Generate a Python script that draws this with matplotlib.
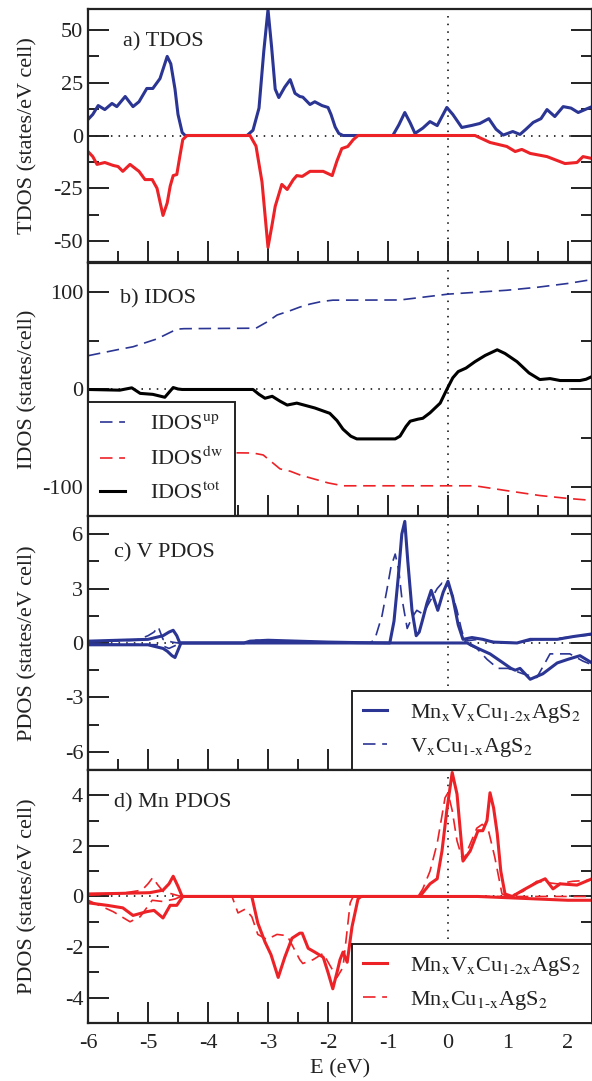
import matplotlib
matplotlib.use('Agg')
import matplotlib.pyplot as plt
from matplotlib.ticker import MultipleLocator

plt.rcParams['font.family'] = ['Liberation Serif', 'DejaVu Serif']
plt.rcParams['mathtext.fontset'] = 'stix'

blue = '#2b3593'
red = '#ec2227'
ink = '#222222'
fs = 16

# a) TDOS
tdos_up_x = [-6, -5.92, -5.83, -5.72, -5.6, -5.52, -5.38, -5.25, -5.15, -5.02, -4.92, -4.8, -4.68, -4.62, -4.55, -4.5,
             -4.43, -4.38, -3.35, -3.25, -3.15, -3.07, -3.0, -2.94, -2.88, -2.82, -2.72, -2.63, -2.55, -2.47, -2.42,
             -2.3, -2.22, -2.1, -2.0, -1.95, -1.88, -1.82, -1.75, -0.92, -0.82, -0.72, -0.63, -0.55, -0.42, -0.3,
             -0.18, -0.1, -0.02, 0.08, 0.23, 0.4, 0.53, 0.68, 0.8, 0.92, 1.08, 1.2, 1.3, 1.42, 1.55, 1.65, 1.78,
             1.92, 2.05, 2.17, 2.3, 2.4]
tdos_up_y = [7.6, 10, 14.2, 12.3, 15.2, 13.7, 18.5, 13.7, 16, 22.3, 22.3, 27, 37.5, 34, 22, 10,
             1.4, 0, 0, 2.5, 13, 40, 59.7, 42, 22, 18, 23, 26.5, 20, 18.5, 18.2,
             14.7, 16, 14.2, 13.3, 10, 4, 1, 0, 0, 5, 10.9, 6, 1, 3.5, 6.6,
             4.7, 9, 13.3, 10, 3.8, 4.8, 5.7, 8, 3, 0.2, 1.9, 0.5, 3, 6.2, 8, 12.3, 9,
             13.7, 13, 10.9, 12.5, 13.7]
tdos_dw_x = [-6, -5.92, -5.85, -5.72, -5.58, -5.5, -5.42, -5.3, -5.15, -5.05, -4.93, -4.85, -4.75, -4.68, -4.63,
             -4.58, -4.52, -4.47, -4.42, -4.35, -3.3, -3.2, -3.1, -3.0, -2.93, -2.88, -2.77, -2.68, -2.58, -2.52,
             -2.43, -2.3, -2.08, -1.93, -1.85, -1.77, -1.67, -1.58, -1.5, 0.45, 0.7, 0.98, 1.12, 1.23, 1.37, 1.65,
             1.95, 2.15, 2.25, 2.4]
tdos_dw_y = [-7.6, -10, -13.7, -12.8, -14.2, -14.7, -17, -13.7, -17, -20.9, -20.9, -25, -37.9, -32, -24,
             -19, -18.5, -10, -1.9, 0, 0, -5, -22, -53, -42, -33.6, -23.2, -25.6, -21, -19,
             -19.4, -17, -17, -19, -12, -6.2, -5.2, -2, 0, 0, -3.3, -5.2, -7.6, -6.6, -8.5, -10,
             -13.3, -12.8, -10, -10.9]

# b) IDOS
idos_up_x = [-6, -5.5, -5.25, -4.85, -4.52, -4.4, -3.2, -3.0, -2.85, -2.63, -2.47, -2.3, -2.1, -1.92, -0.8, 0, 0.98,
             1.48, 2.0, 2.4]
idos_up_y = [34.7, 41, 43.9, 52, 62, 62.5, 63, 70, 76.5, 81, 84.7, 87.8, 90.5, 91.8, 92, 98, 102, 105, 109, 113]
idos_dw_x = [-6, -5.25, -4.85, -4.52, -4.4, -3.25, -3.08, -2.8, -2.63, -2.47, -2.3, -2.0, -1.75, 0.45, 0.98, 1.53,
             2.0, 2.4]
idos_dw_y = [-34.7, -43.9, -52, -62, -64.5, -65.3, -67.3, -81.6, -84, -87.8, -90.8, -96, -99, -99, -104, -109,
             -112, -114]
idos_tot_x = [-6, -5.47, -5.27, -5.13, -4.92, -4.72, -4.65, -4.58, -4.5, -4.43, -3.25, -3.15, -3.05, -2.93, -2.8,
              -2.68, -2.52, -2.22, -1.97, -1.85, -1.75, -1.62, -1.52, -0.88, -0.8, -0.7, -0.63, -0.5, -0.42, -0.3,
              -0.13, -0.02, 0.08, 0.17, 0.3, 0.45, 0.62, 0.82, 0.95, 1.15, 1.35, 1.53, 1.7, 1.87, 2.2, 2.3, 2.4]
idos_tot_y = [0, -0.7, 1.7, -4, -5, -8, -3, 2, 0.5, 0, 0, -5, -9, -7, -12,
              -16, -14, -19, -24.5, -32, -40.8, -48, -50.8, -50.8, -48, -38, -32.6, -30.5, -29.6, -24,
              -14, 0, 12, 18.4, 22, 28.6, 35, 40.8, 37, 28.6, 17, 10.2, 11.2, 9.2, 9.2, 10.5, 13.3]

# c) V PDOS
v_mnv_up_x = [-6, -5.5, -5.0, -4.75, -4.65, -4.58, -4.52, -4.47, -3.4, -3.3, -3.0, -2.5, -2.0, -1.5, -0.97, -0.9,
              -0.83, -0.77, -0.72, -0.67, -0.6, -0.53, -0.48, -0.43, -0.35, -0.28, -0.17, -0.08, 0.0, 0.08, 0.17,
              0.25, 0.4, 0.58, 0.75, 1.15, 1.37, 1.82, 2.08, 2.4]
v_mnv_up_y = [0.1, 0.15, 0.2, 0.4, 0.6, 0.7, 0.4, 0, 0, 0.1, 0.15, 0.1, 0.05, 0.02, 0, 1.2,
              3.6, 6.0, 6.7, 4.5, 1.8, 0.4, 0.6, 1.2, 2.2, 2.9, 1.8, 2.8, 3.4, 2.5, 1.0,
              0.2, 0.3, 0.2, 0.05, 0, 0.2, 0.2, 0.35, 0.5]
v_mnv_dw_x = [-6, -5.0, -4.75, -4.68, -4.6, -4.55, -4.5, -4.45, 0.32, 0.5, 0.7, 0.92, 1.05, 1.12, 1.2, 1.37, 1.58,
              1.82, 2.0, 2.2, 2.4]
v_mnv_dw_y = [-0.1, -0.1, -0.3, -0.45, -0.7, -0.8, -0.4, 0, 0, -0.3, -0.6, -1.1, -1.4, -1.5, -1.4, -2.0, -1.7,
              -1.1, -0.9, -0.7, -1.1]
v_vcu_up_x = [-6, -5.2, -5.0, -4.9, -4.83, -4.75, -4.6, -4.5, -3.3, -3.2, -3.0, -2.0, -1.3, -1.22, -1.1, -1.02,
              -0.95, -0.88, -0.82, -0.77, -0.68, -0.6, -0.52, -0.42, -0.3, -0.18, -0.1, 0.0, 0.08, 0.15, 0.22, 0.28,
              0.5, 0.8, 1.15, 1.4, 1.82, 2.1, 2.4]
v_vcu_up_y = [0.05, 0.15, 0.4, 0.6, 0.9, 0.2, 0.05, 0, 0, 0.15, 0.1, 0.05, 0, 0.2, 1.5, 2.9,
              4.2, 4.9, 4.0, 2.5, 0.8, 1.4, 1.8, 1.6, 2.3, 3.0, 3.3, 3.2, 2.6, 1.8, 0.8, 0.1,
              0.2, 0.05, 0, 0.15, 0.25, 0.35, 0.45]
v_vcu_dw_x = [-6, -4.8, -4.65, -4.55, -4.45, 0.28, 0.48, 0.65, 0.83, 1.0, 1.25, 1.48, 1.6, 1.7, 2.03, 2.25, 2.4]
v_vcu_dw_y = [-0.05, -0.1, -0.3, -0.15, 0, 0, -0.3, -0.9, -1.4, -1.4, -1.7, -1.9, -1.2, -0.6, -0.6, -1.0, -1.2]

# d) Mn PDOS
mn_mnv_up_x = [-6, -5.5, -4.97, -4.75, -4.65, -4.58, -4.5, -4.43, -0.47, -0.3, -0.18, -0.1, -0.02, 0.07, 0.15, 0.25,
               0.37, 0.5, 0.58, 0.65, 0.7, 0.76, 0.82, 0.88, 0.95, 1.07, 1.25, 1.48, 1.62, 1.75, 1.87, 2.15, 2.4]
mn_mnv_up_y = [0.1, 0.12, 0.15, 0.25, 0.5, 0.8, 0.4, 0, 0, 0.5, 0.7, 1.8, 3.4, 4.9, 4.05, 1.4,
               1.8, 2.6, 2.6, 3.0, 4.1, 3.5, 2.5, 1.0, 0.1, 0, 0.25, 0.55, 0.7, 0.3, 0.5, 0.45, 0.7]
mn_mnv_dw_x = [-6, -5.68, -5.42, -5.25, -5.02, -4.9, -4.75, -4.63, -4.52, -4.42, -3.27, -3.17, -3.05, -2.95, -2.83,
               -2.72, -2.6, -2.47, -2.43, -2.33, -2.22, -2.08, -2.0, -1.92, -1.85, -1.8, -1.75, -1.68, -1.6, -1.5,
               -1.45, 0.5, 1.0, 1.5, 2.0, 2.4]
mn_mnv_dw_y = [-0.25, -0.35, -0.45, -0.75, -0.6, -0.55, -0.85, -0.35, -0.35, 0, 0, -1.05, -1.8, -2.3, -3.2,
               -2.4, -1.65, -1.45, -1.45, -2.05, -2.2, -2.4, -3.0, -3.65, -3.0, -2.5, -2.2, -2.6, -1.2, -0.1,
               0, 0, -0.05, -0.1, -0.15, -0.15]
mn_mncu_up_x = [-6, -5.5, -5.1, -5.0, -4.92, -4.85, -4.75, -4.6, -4.45, -0.5, -0.42, -0.3, -0.18, -0.1, -0.05, 0.0,
                0.07, 0.15, 0.25, 0.48, 0.57, 0.67, 0.78, 0.9, 1.0, 1.25, 1.48, 1.82, 2.08, 2.4]
mn_mncu_up_y = [0.05, 0.1, 0.25, 0.5, 0.75, 0.5, 0.2, 0.1, 0, 0, 0.3, 1.0, 2.1, 3.2, 3.9, 4.1,
                3.4, 2.2, 1.4, 2.7, 2.85, 2.65, 1.55, 0.1, 0, 0.2, 0.6, 0.5, 0.6, 0.65]
mn_mncu_dw_x = [-6, -5.58, -5.3, -5.13, -4.93, -4.75, -4.55, -4.45, -3.6, -3.5, -3.38, -3.27, -3.17, -3.02, -2.85,
                -2.68, -2.47, -2.42, -2.25, -2.08, -1.95, -1.85, -1.75, -1.63, -1.58, 2.4]
mn_mncu_dw_y = [-0.15, -0.6, -1.0, -0.8, -0.15, -0.2, -0.1, 0, 0, -0.65, -0.5, -0.8, -1.5, -1.7, -1.5,
                -1.55, -2.5, -2.65, -2.5, -2.25, -2.8, -3.2, -2.8, -0.25, 0, 0]

fig = plt.figure(figsize=(5.92, 10.81), dpi=100)
left = 88 / 592
w = 1 - left
ax_a = fig.add_axes([left, 0.7576, w, 0.2341])
ax_b = fig.add_axes([left, 0.5227, w, 0.2340])
ax_c = fig.add_axes([left, 0.2877, w, 0.2350])
ax_d = fig.add_axes([left, 0.0537, w, 0.2340])
axes = [ax_a, ax_b, ax_c, ax_d]

lw = 2.2
dash = (0, (7.5, 4))
ax_a.plot(tdos_up_x, tdos_up_y, color=blue, lw=lw)
ax_a.plot(tdos_dw_x, tdos_dw_y, color=red, lw=lw)

l1, = ax_b.plot(idos_up_x, idos_up_y, color=blue, lw=1.2, ls=dash)
l2, = ax_b.plot(idos_dw_x, idos_dw_y, color=red, lw=1.2, ls=dash)
l3, = ax_b.plot(idos_tot_x, idos_tot_y, color='black', lw=lw)

c1, = ax_c.plot(v_mnv_up_x, v_mnv_up_y, color=blue, lw=lw)
ax_c.plot(v_mnv_dw_x, v_mnv_dw_y, color=blue, lw=lw)
c2, = ax_c.plot(v_vcu_up_x, v_vcu_up_y, color=blue, lw=1.2, ls=dash)
ax_c.plot(v_vcu_dw_x, v_vcu_dw_y, color=blue, lw=1.2, ls=dash)

d1, = ax_d.plot(mn_mnv_up_x, mn_mnv_up_y, color=red, lw=lw)
ax_d.plot(mn_mnv_dw_x, mn_mnv_dw_y, color=red, lw=lw)
d2, = ax_d.plot(mn_mncu_up_x, mn_mncu_up_y, color=red, lw=1.2, ls=dash)
ax_d.plot(mn_mncu_dw_x, mn_mncu_dw_y, color=red, lw=1.2, ls=dash)

ylims = [(-60, 60), (-130, 130), (-7, 7), (-5, 5)]
ymaj = [25, 100, 3, 2]
ymin = [12.5, 50, 1.5, 1]
ylabels = ['TDOS (states/eV cell)', 'IDOS (states/cell)', 'PDOS (states/eV cell)', 'PDOS (states/eV cell)']
titles = ['a) TDOS', 'b) IDOS', 'c) V PDOS', 'd) Mn PDOS']
tpos = [(0.069, 0.87), (0.063, 0.858), (0.052, 0.854), (0.052, 0.87)]

for i, ax in enumerate(axes):
    ax.plot([-6, 2.05], [0, 0], color='black', lw=1.1, ls=(0, (1, 4)), zorder=1)
    ax.axvline(0, color='black', lw=1.1, ls=(0, (1, 4)), zorder=1)
    ax.set_xlim(-6, 2.4)
    ax.xaxis.set_major_locator(MultipleLocator(1))
    ax.xaxis.set_minor_locator(MultipleLocator(0.5))
    ax.yaxis.set_major_locator(MultipleLocator(ymaj[i]))
    ax.yaxis.set_minor_locator(MultipleLocator(ymin[i]))
    ax.tick_params(which='both', direction='in', top=False, right=True, width=1.4, labelsize=fs,
                   color=ink, labelcolor=ink)
    ax.tick_params(which='major', length=15)
    ax.tick_params(which='minor', length=8)
    for s in ax.spines.values():
        s.set_linewidth(1.6)
        s.set_color(ink)
    ax.set_ylabel(ylabels[i], fontsize=fs, color=ink)
    ax.yaxis.set_label_coords(-0.1, 0.5)
    ax.text(tpos[i][0], tpos[i][1], titles[i], transform=ax.transAxes, fontsize=fs, va='center', color=ink)
    if i < 3:
        ax.tick_params(labelbottom=False)
    ax.set_ylim(*ylims[i])
    yt = [t for t in ax.get_yticks() if ylims[i][0] <= t <= ylims[i][1]]
    ax.set_yticks(yt)
    ax.set_yticklabels(['%g' % t for t in yt])
    ax.set_ylim(*ylims[i])

ax_d.set_xlabel('E (eV)', fontsize=fs, color=ink)
ax_d.xaxis.set_label_coords(0.5, -0.145)
ax_d.set_xticks([-6, -5, -4, -3, -2, -1, 0, 1, 2])
ax_d.set_xticklabels(['-6', '-5', '-4', '-3', '-2', '-1', '0', '1', '2'])
ax_d.tick_params(axis='x', pad=8)


def frame(leg):
    leg.get_frame().set_edgecolor(ink)
    leg.get_frame().set_linewidth(1.4)
    leg.get_frame().set_alpha(1)
    for t in leg.get_texts():
        t.set_color(ink)


leg = ax_b.legend([l1, l2, l3], ['IDOS$^{\\mathrm{up}}$', 'IDOS$^{\\mathrm{dw}}$', 'IDOS$^{\\mathrm{tot}}$'],
                  loc='lower left', bbox_to_anchor=(0, 0), fontsize=fs, frameon=True, fancybox=False,
                  handlelength=1.1, handletextpad=1.15, borderpad=0.55, labelspacing=0.55, borderaxespad=0)
frame(leg)

lab_mnv = 'Mn$_\\mathrm{x}$V$_\\mathrm{x}$Cu$_\\mathrm{1\\text{-}2x}$AgS$_2$'
leg = ax_c.legend([c1, c2], [lab_mnv, 'V$_\\mathrm{x}$Cu$_\\mathrm{1\\text{-}x}$AgS$_2$'],
                  loc='lower right', bbox_to_anchor=(1, 0), fontsize=fs, frameon=True, fancybox=False,
                  handlelength=1.1, handletextpad=1.05, borderpad=0.5, labelspacing=0.5, borderaxespad=0)
frame(leg)

leg = ax_d.legend([d1, d2], [lab_mnv, 'Mn$_\\mathrm{x}$Cu$_\\mathrm{1\\text{-}x}$AgS$_2$'],
                  loc='lower right', bbox_to_anchor=(1, 0), fontsize=fs, frameon=True, fancybox=False,
                  handlelength=1.1, handletextpad=1.05, borderpad=0.5, labelspacing=0.5, borderaxespad=0)
frame(leg)

plt.savefig('out.png', dpi=100)
